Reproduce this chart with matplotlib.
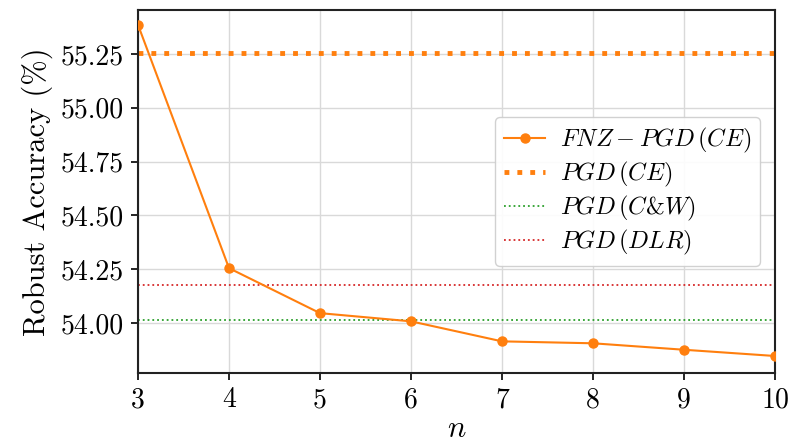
import matplotlib
matplotlib.use("Agg")
import matplotlib.pyplot as plt

plt.rcParams['font.family'] = 'serif'
plt.rcParams['font.serif'] = ['cmr10', 'DejaVu Serif']
plt.rcParams['mathtext.fontset'] = 'cm'
plt.rcParams['axes.formatter.use_mathtext'] = True

n_values = [3, 4, 5, 6, 7, 8, 9, 10]
fnz_pgd_ce = [55.385, 54.255, 54.046, 54.008, 53.915, 53.906, 53.876, 53.847]
pgd_ce = 55.255
pgd_cw = 54.015
pgd_dlr = 54.178
yticks = [54.00, 54.25, 54.50, 54.75, 55.00, 55.25]

fig = plt.figure(figsize=(7.9, 4.48), dpi=100)
ax = fig.add_axes([0.1747, 0.1674, 0.8063, 0.8103])

ax.plot(n_values, fnz_pgd_ce, color='tab:orange', marker='o', markersize=6.5,
        linewidth=1.5, label=r'$FNZ-PGD\,(CE)$', zorder=5)
ax.axhline(pgd_ce, color='tab:orange', linestyle=':', linewidth=3.5, label=r'$PGD\,(CE)$')
ax.axhline(pgd_cw, color='tab:green', linestyle=':', linewidth=1.3, label=r'$PGD\,(C$&$W)$')
ax.axhline(pgd_dlr, color='tab:red', linestyle=':', linewidth=1.3, label=r'$PGD\,(DLR)$')

ax.set_xlim(3, 10)
ax.set_ylim(53.768, 55.454)
ax.set_xticks(n_values)
ax.set_yticks(yticks)
ax.set_yticklabels([f'{v:.2f}' for v in yticks])
ax.set_xticklabels([str(v) for v in n_values])
ax.tick_params(labelsize=20, direction='out', length=5, width=1.2, pad=5)
ax.grid(True, color='#d9d9d9', linewidth=1.0)
for s in ax.spines.values():
    s.set_linewidth(1.5)
    s.set_color('#222222')

ax.set_xlabel(r'$n$', fontsize=22, labelpad=2)
ax.set_ylabel('Robust Accuracy (%)', fontsize=22, labelpad=6)

ax.legend(loc='center right', bbox_to_anchor=(0.995, 0.50), fontsize=17.5,
          framealpha=0.9, edgecolor='#cccccc', handlelength=1.7,
          handletextpad=0.6, labelspacing=0.2, borderpad=0.35)

fig.savefig('out.png', dpi=100)
